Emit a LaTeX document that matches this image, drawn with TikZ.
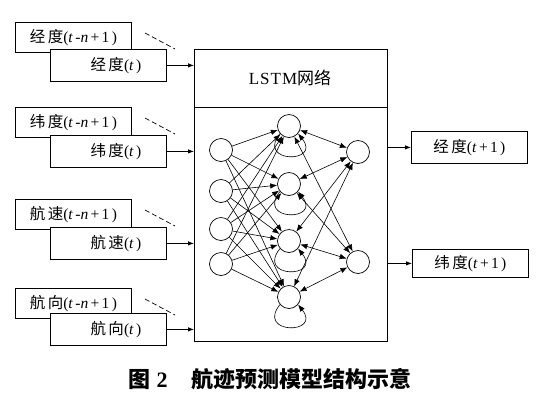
\documentclass[tikz,border=0pt]{standalone}
\usepackage{fontspec}
\setmainfont{Liberation Serif}
\newfontfamily\cjk[LetterSpace=16]{Noto Sans CJK SC}
\newfontfamily\cjkc{Noto Sans CJK SC}
\newfontfamily\lat[LetterSpace=15]{Liberation Serif}
\newfontfamily\latt[LetterSpace=6]{Liberation Serif}
\usetikzlibrary{arrows.meta,calc}
\newcommand{\lbl}[2]{{\cjk #1}{\lat(#2)}}
\begin{document}
\begin{tikzpicture}[x=1pt,y=-1pt,
  box/.style={draw,line width=0.8pt,fill=white,minimum width=116pt,minimum height=32pt,inner sep=0pt,font=\fontsize{15.5}{16}\selectfont},
  outbox/.style={box,minimum height=30pt},
  feed/.style={-{Latex[length=6pt,width=4.5pt]},line width=0.8pt},
  neu/.style={circle,draw,line width=0.7pt,minimum size=23pt,inner sep=0pt},
  syn/.style={-{Latex[length=7pt,width=5.5pt]},line width=0.6pt},
  bisyn/.style={{Latex[length=7pt,width=5.5pt]}-{Latex[length=7pt,width=5.5pt]},line width=0.6pt},
  dsh/.style={dashed,line width=0.7pt,dash pattern=on 5pt off 3pt}]
\useasboundingbox (0,0) rectangle (543,408);

% LSTM box
\node[draw,line width=0.8pt,minimum width=193pt,minimum height=292pt,anchor=north west,inner sep=0pt] (lstm) at (194,49) {};
\coordinate (dl) at (194,107);
\coordinate (dr) at (387,107);
\draw[line width=0.8pt] (dl) -- (dr);
\node[font=\fontsize{17}{18}\selectfont] (title) at (290,78) {{\latt LSTM}{\cjkc 网络}};

% input groups
\foreach \i/\bt/\ft/\name in {1/22/49/经度, 2/107/135/纬度, 3/199/227/航速, 4/288/313/航向}{
  \node[box,minimum height=30pt,anchor=north west] (b\i) at (15,\bt) {\lbl{\name}{\textit{t}-\textit{n}+1}};
  \node[box,anchor=north west] (f\i) at (50,\ft) {\hspace*{15pt}\lbl{\name}{\textit{t}}};
  \coordinate (da\i) at (145,\bt+11);
  \coordinate (db\i) at (175,\bt+27);
  \draw[dsh] (da\i) -- (db\i);
  \draw[feed] (f\i.east) -- (f\i.east -| lstm.west);
}

% output boxes
\node[outbox,minimum height=32pt,anchor=north west] (o1) at (411,131) {\lbl{经度}{\textit{t}+1}};
\node[outbox,minimum height=28pt,anchor=north west] (o2) at (412,249) {\lbl{纬度}{\textit{t}+1}};
\draw[feed] (o1.west -| lstm.east) -- (o1.west);
\draw[feed] (o2.west -| lstm.east) -- (o2.west);

% network
\foreach \i/\y in {1/150,2/191,3/229,4/264}{\node[neu] (x\i) at (221,\y) {};}
\foreach \i/\y in {1/126,2/184,3/241,4/297}{\node[neu] (h\i) at (289,\y) {};}
\foreach \i/\y in {1/152,2/262}{\node[neu] (y\i) at (358,\y) {};}
\foreach \i in {1,...,4}{\foreach \j in {1,...,4}{\draw[syn] (x\i) -- (h\j);}}
\foreach \j in {1,...,4}{\foreach \k in {1,2}{\draw[bisyn] (h\j) -- (y\k);}}
\foreach \j in {1,...,4}{\draw[syn] (h\j.220) .. controls +(-24,30) and +(24,30) .. (h\j.-40);}

% caption
\node[font=\fontsize{22}{23}\selectfont\bfseries] (cap) at (270,379) {{\cjkc 图}\hspace{6pt}2\hspace{24pt}{\cjkc 航迹预测模型结构示意}};
\end{tikzpicture}
\end{document}
